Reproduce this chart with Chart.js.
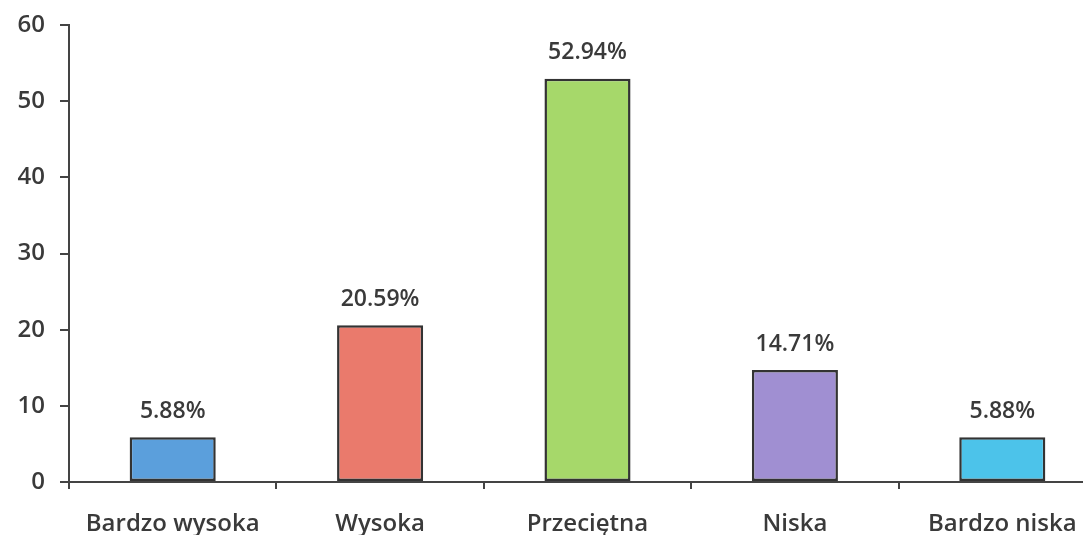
<!DOCTYPE html>
<html>
<head>
<meta charset="utf-8">
<script src="https://cdn.jsdelivr.net/npm/chart.js@4.4.1/dist/chart.umd.min.js"></script>
<style>
  html, body { margin: 0; padding: 0; background: #fff; overflow: hidden; width: 1083px; height: 535px; }
  #wrap { position: absolute; left: 0; top: 0; width: 1106px; height: 535px; }
</style>
</head>
<body>
<div id="wrap"><canvas id="c" width="1106" height="535"></canvas></div>
<script>
const categories = ["Bardzo wysoka", "Wysoka", "Przeciętna", "Niska", "Bardzo niska"];
const values = [5.88, 20.59, 52.94, 14.71, 5.88];
const valueLabels = ["5.88%", "20.59%", "52.94%", "14.71%", "5.88%"];
const barColors = ["#5b9fdc", "#ea7a6c", "#a6d86a", "#a08fd2", "#4cc3ea"];
const yTicks = [0, 10, 20, 30, 40, 50, 60];

const FONT = "'Open Sans', Lato, sans-serif";
const TEXT = "#3a3a3a";

const labelPlugin = {
  id: 'valueLabels',
  afterDatasetsDraw(chart) {
    const ctx = chart.ctx;
    const meta = chart.getDatasetMeta(0);
    ctx.save();
    ctx.font = "600 23px " + FONT;
    ctx.fillStyle = TEXT;
    ctx.textAlign = 'center';
    ctx.textBaseline = 'middle';
    meta.data.forEach((bar, i) => {
      ctx.fillText(valueLabels[i], bar.x, bar.y - 26);
    });
    ctx.restore();
  }
};

new Chart(document.getElementById('c'), {
  type: 'bar',
  data: {
    labels: categories,
    datasets: [{
      data: values,
      backgroundColor: barColors,
      borderColor: "#333",
      borderWidth: 2.5,
      borderSkipped: false,
      categoryPercentage: 1,
      barPercentage: 0.415
    }]
  },
  options: {
    responsive: false,
    animation: false,
    layout: { padding: { top: 25, left: 0, right: 0, bottom: 0 } },
    plugins: { legend: { display: false }, tooltip: { enabled: false } },
    scales: {
      y: {
        min: 0, max: 60,
        afterBuildTicks(scale) { scale.ticks = yTicks.map(v => ({ value: v })); },
        afterFit(scale) { scale.width = 69; scale.paddingTop = 0; scale.paddingBottom = 0; },
        border: { display: true, color: "#444", width: 2 },
        grid: { drawOnChartArea: false, drawTicks: true, tickLength: 9, color: "#444", lineWidth: 2 },
        ticks: { color: TEXT, font: { family: FONT, size: 24, weight: 600 }, padding: 15 }
      },
      x: {
        afterFit(scale) { scale.height = 53; },
        border: { display: true, color: "#444", width: 2 },
        grid: { offset: true, drawOnChartArea: false, drawTicks: true, tickLength: 7, color: "#444", lineWidth: 2 },
        ticks: { color: TEXT, font: { family: FONT, size: 24, weight: 600 }, padding: 21, maxRotation: 0, autoSkip: false }
      }
    }
  },
  plugins: [labelPlugin]
});
</script>
</body>
</html>
